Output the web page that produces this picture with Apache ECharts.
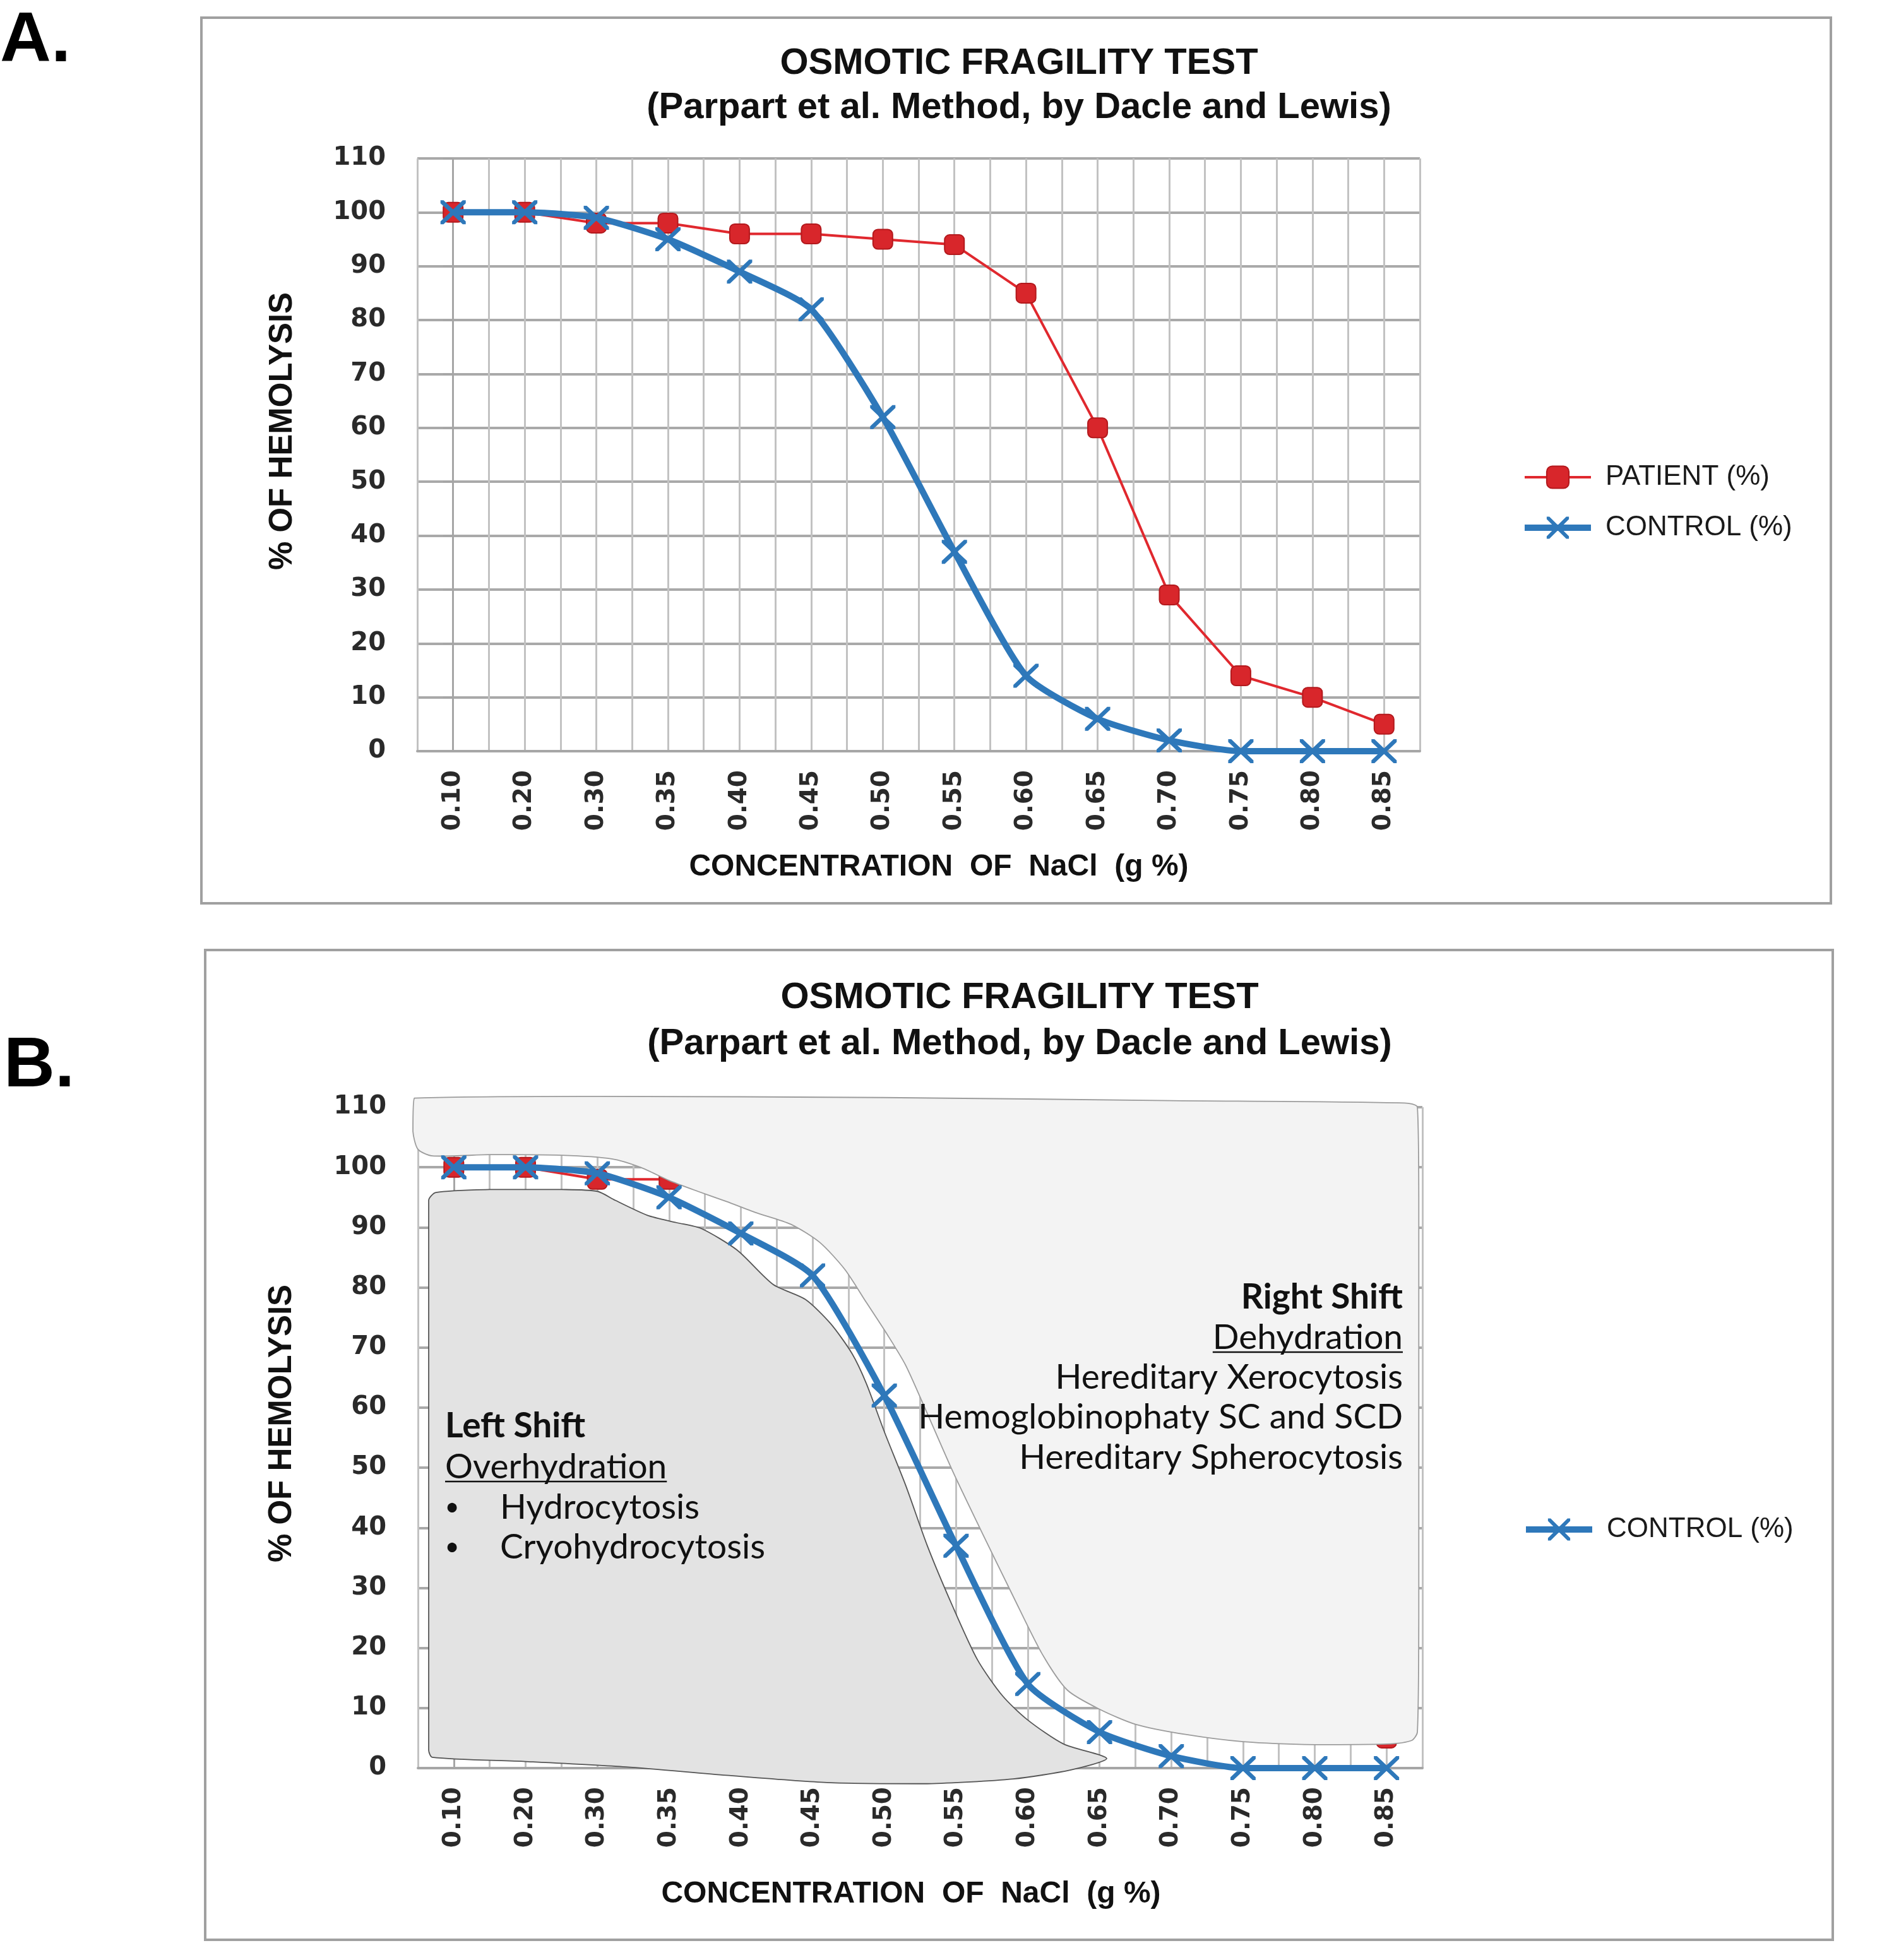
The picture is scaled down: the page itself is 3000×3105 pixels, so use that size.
<!DOCTYPE html>
<html>
<head>
<meta charset="utf-8">
<script src="https://cdn.jsdelivr.net/npm/echarts@6/dist/echarts.min.js"></script>
<style>
html,body{margin:0;padding:0;background:#ffffff;}
#chart{width:3000px;height:3105px;}
</style>
</head>
<body>
<div id="chart"></div>
<script>
// ---------------- data ----------------
const concentrations = ['0.10','0.20','0.30','0.35','0.40','0.45','0.50','0.55','0.60','0.65','0.70','0.75','0.80','0.85'];
const patientPct = [100,100,98,98,96,96,95,94,85,60,29,14,10,5];
const controlPct = [100,100,99,95,89,82,62,37,14,6,2,0,0,0];
const yMin = 0, yMax = 110, yStep = 10;

// annotation shapes of panel B, in data space [category index, % hemolysis]
const rightShiftOutline = [[-0.55,111.5],[2,111.8],[6,111.6],[10,111.1],[13.25,110.7],[13.43,110],[13.45,95],[13.45,60],[13.45,25],[13.43,6],[13.35,4.6],[13.0,4.0],[12.0,3.9],[11.0,4.4],[10.2,5.6],[9.5,7.3],[9.0,9.8],[8.55,13],[8.2,19],[7.8,28.5],[7.35,39.5],[6.95,49.5],[6.6,59],[6.3,67],[6.05,72],[5.75,77.5],[5.45,83],[5.1,87.5],[4.7,90.5],[4.2,92.5],[3.8,94.3],[3.4,96],[3.0,97.8],[2.6,100],[2.2,101.4],[1.5,102],[0.5,102.1],[-0.3,101.9],[-0.5,103],[-0.57,106]];
const leftShiftOutline = [[-0.35,94.5],[-0.25,95.8],[0.5,96.3],[1.5,96.3],[2.0,96],[2.25,94.5],[2.7,92],[3.1,90.8],[3.45,89.8],[3.95,86.2],[4.45,80.5],[4.9,78],[5.25,74],[5.55,69],[5.75,64],[6.0,56],[6.3,47],[6.6,37],[6.95,27],[7.3,18],[7.65,12],[8.0,8],[8.5,4],[9.1,1.6],[8.6,-0.3],[7.8,-1.8],[6.6,-2.6],[5.2,-2.4],[3.8,-1.2],[2.4,0.2],[1.0,1.1],[-0.3,1.8],[-0.35,3],[-0.35,50]];

const rightShiftLines = ['Hereditary Xerocytosis','Hemoglobinophaty SC and SCD','Hereditary Spherocytosis'];
const leftShiftLines = ['Hydrocytosis','Cryohydrocytosis'];

// ---------------- helpers ----------------
const pts = arr => arr.map((v,i)=>[i,v]);
const BLUE = '#2e78ba', RED = '#e0282e';
const X_PATH = 'path://M0,0L12,0L50,38L88,0L100,0L100,12L62,50L100,88L100,100L88,100L50,62L12,100L0,100L0,88L38,50L0,12Z';
const TICK_FONT = 'DejaVu Sans';
const SANS = 'Liberation Sans';
const NOTE_FONT = 'Lato';

function xAxisCfg(gridIndex){
  return {
    type:'value', gridIndex, min:-0.5, max:concentrations.length-0.5, interval:0.5,
    axisLine:{show:true, lineStyle:{color:'#a6a6a6', width:4}},
    axisTick:{show:false},
    splitLine:{show:true, lineStyle:{color:'#c2c2c2', width:3}},
    axisLabel:{
      rotate:90, margin:30, fontFamily:TICK_FONT, fontWeight:'bold', fontSize:39, color:'#2a2a2a',
      formatter: v => Number.isInteger(v) ? concentrations[v] : ''
    }
  };
}
function yAxisCfg(gridIndex){
  return {
    type:'value', gridIndex, min:yMin, max:yMax, interval:yStep,
    axisLine:{show:true, lineStyle:{color:'#a6a6a6', width:3}},
    axisTick:{show:true, length:16, lineStyle:{color:'#a6a6a6', width:3}},
    splitLine:{show:true, lineStyle:{color:'#a9a9a9', width:4}},
    axisLabel:{margin:50, fontFamily:TICK_FONT, fontWeight:'bold', fontSize:40, color:'#2a2a2a'}
  };
}
function patientSeries(idx, z){
  return {
    name:'PATIENT (%)', type:'line', xAxisIndex:idx, yAxisIndex:idx, z,
    data:pts(patientPct), symbol:'roundRect', symbolSize:31,
    lineStyle:{color:RED, width:4},
    itemStyle:{color:'#d8262b', borderColor:'#b3191d', borderWidth:2},
    animation:false
  };
}
function controlSeries(idx, z){
  return {
    name:'CONTROL (%)', type:'line', xAxisIndex:idx, yAxisIndex:idx, z,
    data:pts(controlPct), smooth:0.2, symbol:X_PATH, symbolSize:[40,38],
    lineStyle:{color:BLUE, width:10},
    itemStyle:{color:BLUE},
    animation:false
  };
}
function shapeSeries(outline, fill, stroke, z){
  return {
    type:'custom', xAxisIndex:1, yAxisIndex:1, z, silent:true, animation:false,
    data:[[0,0]],
    renderItem:(params, api) => {
      const p = outline.map(q => api.coord(q));
      const xs = p.map(a=>a[0]), ys = p.map(a=>a[1]);
      const box = [[Math.min(...xs), Math.min(...ys)], [Math.max(...xs), Math.max(...ys)]];
      return {
        type:'polygon',
        shape:{points:p, smooth:0.25, smoothConstraint:box},
        style:{fill, stroke, lineWidth:1.8}
      };
    }
  };
}

// text measuring for underlines
const mctx = document.createElement('canvas').getContext('2d');
function textW(text, font){ mctx.font = font; return mctx.measureText(text).width; }

const NOTE_SIZE = 55;
const noteFont = `${NOTE_SIZE}px ${NOTE_FONT}`;
const noteBold = `bold ${NOTE_SIZE}px ${NOTE_FONT}`;

const graphics = [];
// frames
graphics.push({type:'rect', shape:{x:319,y:28,width:2581,height:1403}, style:{fill:'none', stroke:'#a0a0a0', lineWidth:4}, z:1});
graphics.push({type:'rect', shape:{x:325,y:1505,width:2578,height:1568}, style:{fill:'none', stroke:'#a0a0a0', lineWidth:4}, z:1});
// panel letters
graphics.push({type:'text', x:0, y:66, style:{text:'A.', font:`bold 112px ${SANS}`, fill:'#000', align:'left', verticalAlign:'middle'}, z:10});
graphics.push({type:'text', x:6, y:1690, style:{text:'B.', font:`bold 112px ${SANS}`, fill:'#000', align:'left', verticalAlign:'middle'}, z:10});
// axis names
const axisNameFont = `bold 48px ${SANS}`;
const yNameFont = `bold 51px ${SANS}`;
graphics.push({type:'text', x:1487, y:1374, style:{text:'CONCENTRATION  OF  NaCl  (g %)', font:axisNameFont, fill:'#111', align:'center', verticalAlign:'middle'}, z:10});
graphics.push({type:'text', x:1443, y:3001, style:{text:'CONCENTRATION  OF  NaCl  (g %)', font:axisNameFont, fill:'#111', align:'center', verticalAlign:'middle'}, z:10});
graphics.push({type:'text', x:448, y:683, rotation:Math.PI/2, style:{text:'% OF HEMOLYSIS', font:yNameFont, fill:'#111', align:'center', verticalAlign:'middle'}, z:10});
graphics.push({type:'text', x:447, y:2255, rotation:Math.PI/2, style:{text:'% OF HEMOLYSIS', font:yNameFont, fill:'#111', align:'center', verticalAlign:'middle'}, z:10});

// right shift notes (right aligned)
const rX = 2222;
graphics.push({type:'text', x:rX, y:2055, style:{text:'Right Shift', font:noteBold, fill:'#111', align:'right', verticalAlign:'middle'}, z:20});
graphics.push({type:'text', x:rX, y:2119, style:{text:'Dehydration', font:noteFont, fill:'#111', align:'right', verticalAlign:'middle'}, z:20});
{
  const w = textW('Dehydration', noteFont);
  graphics.push({type:'line', shape:{x1:rX-w, y1:2119+NOTE_SIZE*0.42, x2:rX, y2:2119+NOTE_SIZE*0.42}, style:{stroke:'#111', lineWidth:2.5}, z:20});
}
rightShiftLines.forEach((t,i)=>{
  graphics.push({type:'text', x:rX, y:2182+i*63.5, style:{text:t, font:noteFont, fill:'#111', align:'right', verticalAlign:'middle'}, z:20});
});
// left shift notes
const lX = 705;
graphics.push({type:'text', x:lX, y:2259, style:{text:'Left Shift', font:noteBold, fill:'#111', align:'left', verticalAlign:'middle'}, z:20});
graphics.push({type:'text', x:lX, y:2324, style:{text:'Overhydration', font:noteFont, fill:'#111', align:'left', verticalAlign:'middle'}, z:20});
{
  const w = textW('Overhydration', noteFont);
  graphics.push({type:'line', shape:{x1:lX, y1:2324+NOTE_SIZE*0.42, x2:lX+w, y2:2324+NOTE_SIZE*0.42}, style:{stroke:'#111', lineWidth:2.5}, z:20});
}
leftShiftLines.forEach((t,i)=>{
  const y = 2388 + i*63.5;
  graphics.push({type:'text', x:716, y, style:{text:'•', font:`40px ${NOTE_FONT}`, fill:'#111', align:'center', verticalAlign:'middle'}, z:20});
  graphics.push({type:'text', x:792, y, style:{text:t, font:noteFont, fill:'#111', align:'left', verticalAlign:'middle'}, z:20});
});

const titleText = 'OSMOTIC FRAGILITY TEST\n(Parpart et al. Method, by Dacle and Lewis)';
const legendText = {fontFamily:SANS, fontSize:44, color:'#1a1a1a', padding:[0,0,0,18]};

const option = {
  backgroundColor:'#ffffff',
  animation:false,
  title:[
    {text:titleText, left:1609, top:61, textAlign:'center',
     textStyle:{fontFamily:SANS, fontWeight:'bold', fontSize:58, lineHeight:70, color:'#111'}},
    {text:titleText, left:1610, top:1539, textAlign:'center',
     textStyle:{fontFamily:SANS, fontWeight:'bold', fontSize:58, lineHeight:73, color:'#111'}}
  ],
  legend:[
    {data:[{name:'PATIENT (%)', lineStyle:{width:4}}, {name:'CONTROL (%)', lineStyle:{width:10}}],
     orient:'vertical', left:2405, top:729, itemWidth:105, itemHeight:44, itemGap:36, textStyle:legendText, selectedMode:false},
    {data:[{name:'CONTROL (%)', lineStyle:{width:10}}],
     orient:'vertical', left:2407, top:2396, itemWidth:105, itemHeight:44, itemGap:36, textStyle:legendText, selectedMode:false}
  ],
  grid:[
    {left:661, top:251, width:1588, height:939, containLabel:false},
    {left:662, top:1754, width:1591, height:1047, containLabel:false}
  ],
  xAxis:[xAxisCfg(0), xAxisCfg(1)],
  yAxis:[yAxisCfg(0), yAxisCfg(1)],
  series:[
    patientSeries(0, 2),
    controlSeries(0, 4),
    patientSeries(1, 2),
    shapeSeries(rightShiftOutline, '#f3f3f3', '#9c9c9c', 3),
    shapeSeries(leftShiftOutline, '#e3e3e3', '#555555', 3),
    controlSeries(1, 5)
  ],
  graphic:{elements:graphics}
};

const chart = echarts.init(document.getElementById('chart'), null, {renderer:'canvas', width:3000, height:3105});
chart.setOption(option);
</script>
</body>
</html>
